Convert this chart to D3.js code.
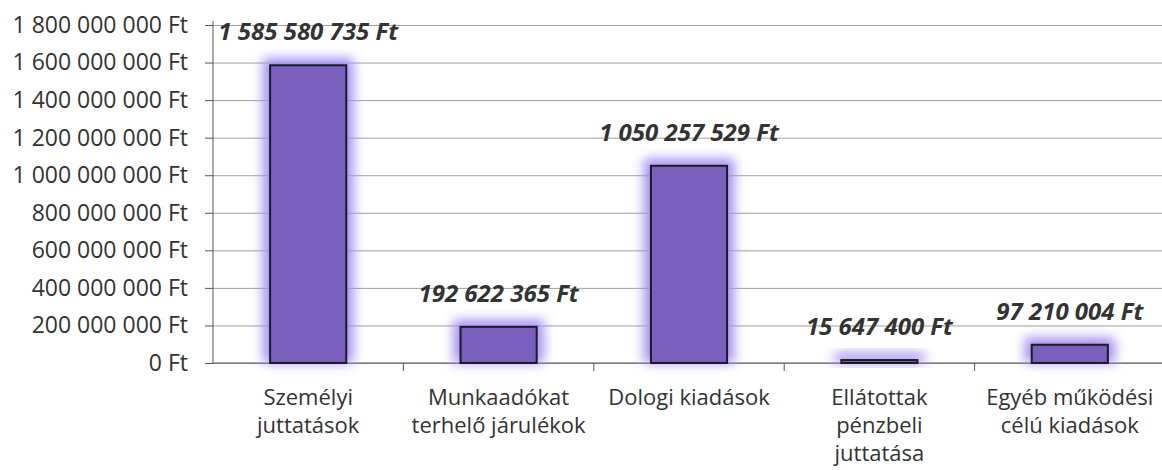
<!DOCTYPE html>
<html>
<head>
<meta charset="utf-8">
<script src="https://cdn.jsdelivr.net/npm/d3@7"></script>
<style>
  body { margin: 0; background: #fff; }
  svg { display: block; }
  text { font-family: "Open Sans", sans-serif; fill: #333; }
  .axis path, .axis line { stroke: #555; }
  .grid line { stroke: #a0a0a0; stroke-width: 1; }
  .grid path { display: none; }
</style>
</head>
<body>
<svg id="chart" width="1162" height="470"></svg>
<script>
// kiadasok oszlopdiagram

var categories = [
    ["Személyi", "juttatások"],
    ["Munkaadókat", "terhelő járulékok"],
    ["Dologi kiadások"],
    ["Ellátottak", "pénzbeli", "juttatása"],
    ["Egyéb működési", "célú kiadások"]
];
var values = [1585580735, 192622365, 1050257529, 15647400, 97210004];
var yTicks = [0, 200000000, 400000000, 600000000, 800000000, 1000000000,
              1200000000, 1400000000, 1600000000, 1800000000];

var svg = d3.select("#chart");
var plotLeft = 213, plotRight = 1165, plotTop = 25, plotBottom = 363;

var hu = d3.formatLocale({decimal: ",", thousands: " ", grouping: [3], currency: ["", " Ft"]});
var fmt = function(d) { return hu.format(",")(d) + " Ft"; };

var x = d3.scaleBand().domain(d3.range(values.length)).range([plotLeft, plotRight]);
var y = d3.scaleLinear().domain([0, 1800000000]).range([plotBottom, plotTop]);

// glow filter
var defs = svg.append("defs");
defs.append("filter")
    .attr("id", "glow")
    .attr("x", "-50%").attr("y", "-50%")
    .attr("width", "200%").attr("height", "200%")
  .append("feGaussianBlur")
    .attr("stdDeviation", 6);

// gridlines
svg.append("g")
    .attr("class", "grid")
    .attr("transform", "translate(" + plotLeft + ",0)")
    .call(d3.axisLeft(y).tickValues(yTicks).tickSize(-(1162 - plotLeft)).tickFormat(""));

// y axis
var yAxis = svg.append("g")
    .attr("class", "axis")
    .attr("transform", "translate(" + plotLeft + ",0)")
    .call(d3.axisLeft(y).tickValues(yTicks).tickSize(8).tickPadding(17).tickFormat(fmt));
yAxis.selectAll("text").style("font-size", "23px").attr("fill", "#333");
yAxis.select(".domain").attr("d", "M0," + (plotTop - 4) + "V" + plotBottom);

// x axis line + ticks at band borders
svg.append("line")
    .attr("x1", plotLeft).attr("x2", 1162)
    .attr("y1", plotBottom).attr("y2", plotBottom)
    .attr("stroke", "#555");
svg.selectAll(".xtick")
    .data(d3.range(1, values.length))
    .enter().append("line")
    .attr("x1", function(i) { return x(i); })
    .attr("x2", function(i) { return x(i); })
    .attr("y1", plotBottom).attr("y2", plotBottom + 8)
    .attr("stroke", "#555");

var bw = x.bandwidth() * 0.4;

// glow behind bars
svg.selectAll(".glow")
    .data(values)
    .enter().append("rect")
    .attr("x", function(d, i) { return x(i) + (x.bandwidth() - bw) / 2 - 7; })
    .attr("y", function(d) { return y(d) - 7; })
    .attr("width", bw + 14)
    .attr("height", function(d) { return plotBottom - y(d) + 7; })
    .attr("fill", "#a08ef0")
    .attr("filter", "url(#glow)");

// bars
svg.selectAll(".bar")
    .data(values)
    .enter().append("rect")
    .attr("x", function(d, i) { return x(i) + (x.bandwidth() - bw) / 2; })
    .attr("y", function(d) { return y(d); })
    .attr("width", bw)
    .attr("height", function(d) { return plotBottom - y(d); })
    .attr("fill", "#7b5fbf")
    .attr("stroke", "#1c1a26")
    .attr("stroke-width", 2);

// value labels
svg.selectAll(".vlabel")
    .data(values)
    .enter().append("text")
    .attr("x", function(d, i) { return x(i) + x.bandwidth() / 2; })
    .attr("y", function(d) { return y(d) - 25; })
    .attr("text-anchor", "middle")
    .style("font-size", "24px")
    .style("font-weight", "bold")
    .style("font-style", "italic")
    .attr("fill", "#2b2b2b")
    .text(fmt);

// category labels
var cl = svg.selectAll(".cat")
    .data(categories)
    .enter().append("text")
    .attr("text-anchor", "middle")
    .style("font-size", "22px")
    .attr("fill", "#333");
cl.selectAll("tspan")
    .data(function(d, i) { return d.map(function(s) { return {s: s, i: i}; }); })
    .enter().append("tspan")
    .attr("x", function(d) { return x(d.i) + x.bandwidth() / 2; })
    .attr("y", function(d, j) { return 405 + j * 28; })
    .text(function(d) { return d.s; });
</script>
</body>
</html>
